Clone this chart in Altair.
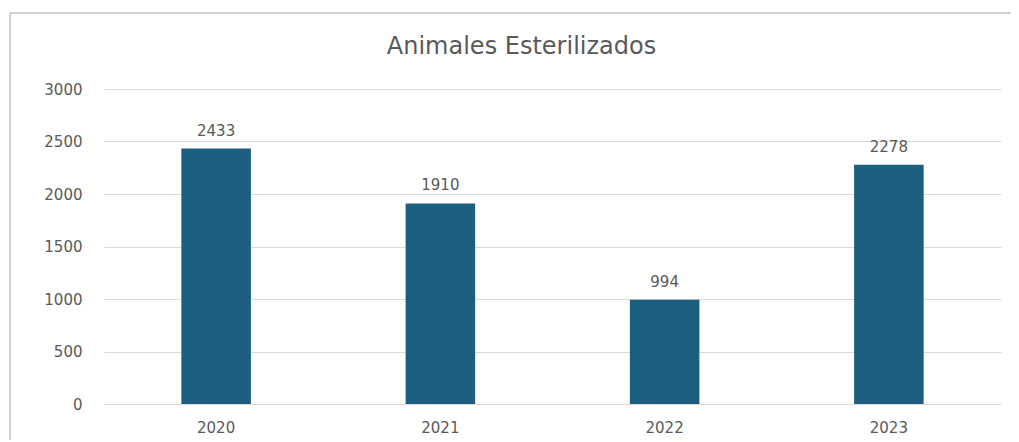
import altair as alt
import pandas as pd

years = ["2020", "2021", "2022", "2023"]
values = [2433, 1910, 994, 2278]

df = pd.DataFrame({"year": years, "value": values})

FONT = "DejaVu Sans"
GREY = "#595959"

base = alt.Chart(df)

bars = base.mark_bar(color="#1B5E7F").encode(
    x=alt.X("year:N", sort=years, title=None,
            scale=alt.Scale(paddingInner=0.69, paddingOuter=0.345),
            axis=alt.Axis(labelAngle=0, labelFontSize=15, labelColor=GREY, labelFont=FONT,
                          labelPadding=16, ticks=False, domain=False, grid=False)),
    y=alt.Y("value:Q", title=None,
            scale=alt.Scale(domain=[0, 3000]),
            axis=alt.Axis(values=[0, 500, 1000, 1500, 2000, 2500, 3000], format="d",
                          labelFontSize=15, labelColor=GREY, labelFont=FONT,
                          labelPadding=22, ticks=False, domain=False,
                          gridColor="#d9d9d9", gridWidth=1.2)),
)

labels = base.mark_text(baseline="alphabetic", dy=-13, fontSize=15, font=FONT, color=GREY).encode(
    x=alt.X("year:N", sort=years),
    y="value:Q",
    text="value:Q",
)

frame_left = base.mark_rule(color="#d0d0d0", strokeWidth=1.5).encode(
    x=alt.value(-94), y=alt.value(-76), y2=alt.value(360)
)
frame_top = base.mark_rule(color="#d0d0d0", strokeWidth=1.5).encode(
    x=alt.value(-94), x2=alt.value(910), y=alt.value(-76)
)

chart = alt.layer(frame_left, frame_top, bars, labels).properties(
    width=897,
    height=315,
    title=alt.TitleParams("Animales Esterilizados", font=FONT, fontSize=24, fontWeight="normal",
                          color=GREY, anchor="middle", dx=-31, offset=-66, baseline="alphabetic"),
    autosize=alt.AutoSizeParams(type="none"),
    padding={"left": 96, "top": 81, "right": 10, "bottom": 36},
).configure_view(stroke=None)

chart.save("out.html", embed_options={"renderer": "svg", "actions": False})
